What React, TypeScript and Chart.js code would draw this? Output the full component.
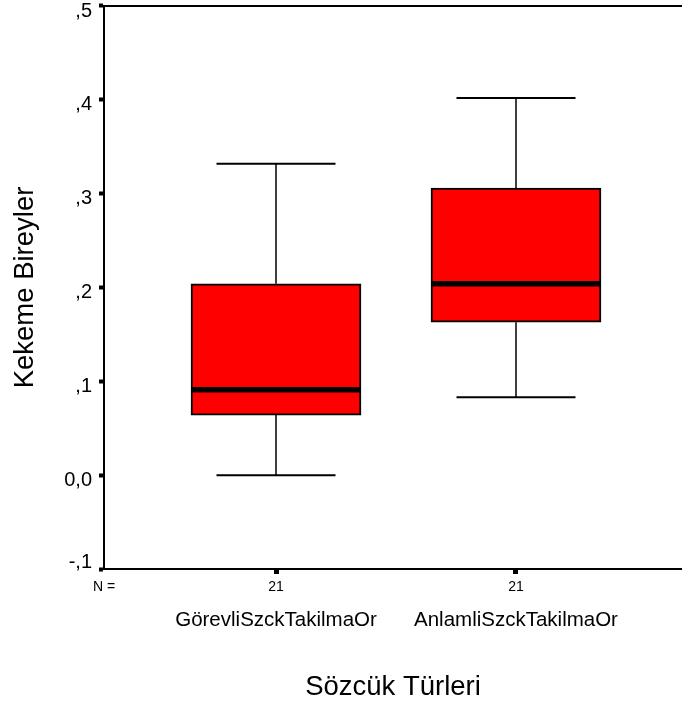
import React, { useEffect, useRef } from "react";
import { Chart, registerables } from "chart.js";

Chart.register(...registerables);

const categories = ["GörevliSzckTakilmaOr", "AnlamliSzckTakilmaOr"];
const nCounts = [21, 21];
const whiskerLow = [0.0, 0.083];
const q1 = [0.064, 0.163];
const medians = [0.091, 0.204];
const q3 = [0.204, 0.306];
const whiskerHigh = [0.332, 0.402];
const yTickLabels = ["-,1", "0,0", ",1", ",2", ",3", ",4", ",5"];
const nLabel = "N =";
const yTitle = "Kekeme Bireyler";
const xTitle = "Sözcük Türleri";

const X_MIN = 0.2833;
const X_MAX = 2.6917;
const FONT = "'Liberation Sans', Arial, sans-serif";

const boxPlugin = {
  id: "boxWhiskers",
  afterDatasetsDraw(chart: any) {
    const { ctx } = chart;
    const x = chart.scales.x;
    const y = chart.scales.y;
    const meta = chart.getDatasetMeta(0);
    meta.data.forEach((bar: any, i: number) => {
      const cx = x.getPixelForValue(i + 1);
      const half = bar.width / 2;
      const capHalf = half * 0.7;
      const yHi = y.getPixelForValue(whiskerHigh[i]);
      const yLo = y.getPixelForValue(whiskerLow[i]);
      const yQ3 = y.getPixelForValue(q3[i]);
      const yQ1 = y.getPixelForValue(q1[i]);
      const yMed = y.getPixelForValue(medians[i]);
      ctx.save();
      ctx.strokeStyle = "#000";
      ctx.lineWidth = 1.5;
      ctx.beginPath();
      ctx.moveTo(cx, yQ3);
      ctx.lineTo(cx, yHi);
      ctx.moveTo(cx, yQ1);
      ctx.lineTo(cx, yLo);
      ctx.stroke();
      ctx.lineWidth = 2;
      ctx.beginPath();
      ctx.moveTo(cx - capHalf, yHi);
      ctx.lineTo(cx + capHalf, yHi);
      ctx.moveTo(cx - capHalf, yLo);
      ctx.lineTo(cx + capHalf, yLo);
      ctx.stroke();
      ctx.lineWidth = 5.5;
      ctx.beginPath();
      ctx.moveTo(cx - half, yMed);
      ctx.lineTo(cx + half, yMed);
      ctx.stroke();
      ctx.restore();
    });
  },
};

const noPad = (s: any) => {
  s.paddingLeft = 0;
  s.paddingRight = 0;
  s.paddingTop = 0;
  s.paddingBottom = 0;
};

export default function App() {
  const ref = useRef<HTMLCanvasElement>(null);
  useEffect(() => {
    if (!ref.current) return;
    Chart.defaults.font.family = FONT;
    Chart.defaults.color = "#000";
    const chart = new Chart(ref.current, {
      type: "bar",
      data: {
        datasets: [
          {
            data: categories.map((_, i) => ({ x: i + 1, y: [q1[i], q3[i]] })) as any,
            backgroundColor: "#ff0000",
            borderColor: "#000",
            borderWidth: 2,
            borderSkipped: false,
            barThickness: 170,
          },
        ],
      },
      options: {
        responsive: false,
        animation: false,
        devicePixelRatio: 1,
        layout: { padding: 0 },
        plugins: { legend: { display: false }, tooltip: { enabled: false } },
        scales: {
          x: {
            type: "linear",
            position: "bottom",
            offset: false,
            min: X_MIN,
            max: X_MAX,
            afterBuildTicks: (s: any) => {
              s.ticks = [{ value: X_MIN }, ...categories.map((_, i) => ({ value: i + 1 }))];
            },
            afterFit: (s: any) => {
              s.height = 26;
              noPad(s);
            },
            ticks: {
              autoSkip: false,
              maxRotation: 0,
              padding: 5,
              font: { size: 14 },
              callback: (_v: any, i: number) => (i === 0 ? nLabel : String(nCounts[i - 1])),
            },
            grid: {
              offset: false,
              drawOnChartArea: false,
              drawTicks: true,
              tickLength: 5,
              tickWidth: 5,
              tickColor: (c: any) => (c.index === 0 ? "rgba(0,0,0,0)" : "#000"),
            },
            border: { display: true, color: "#000", width: 2 },
          },
          xCat: {
            type: "linear",
            position: "bottom",
            offset: false,
            min: X_MIN,
            max: X_MAX,
            afterBuildTicks: (s: any) => {
              s.ticks = categories.map((_, i) => ({ value: i + 1 }));
            },
            afterFit: (s: any) => {
              s.height = 113;
              noPad(s);
            },
            ticks: {
              autoSkip: false,
              maxRotation: 0,
              padding: 13,
              font: { size: 20.5 },
              callback: (_v: any, i: number) => categories[i],
            },
            grid: { display: false, drawTicks: false, offset: false },
            border: { display: false },
            title: {
              display: true,
              text: xTitle,
              font: { size: 27.5 },
              padding: { top: 4, bottom: 4 },
            },
          },
          xTop: {
            type: "linear",
            position: "top",
            offset: false,
            min: X_MIN,
            max: X_MAX,
            afterFit: (s: any) => {
              s.height = 6;
              noPad(s);
            },
            ticks: { display: false },
            grid: { drawOnChartArea: false, drawTicks: false, offset: false },
            border: { display: true, color: "#000", width: 2 },
          },
          y: {
            type: "linear",
            min: -0.1,
            max: 0.5,
            afterBuildTicks: (s: any) => {
              s.ticks = yTickLabels.map((_, i) => ({ value: -0.1 + i * 0.1 }));
            },
            afterFit: (s: any) => {
              s.width = 104;
              noPad(s);
            },
            ticks: {
              padding: 7,
              labelOffset: 5,
              font: { size: 20 },
              callback: (_v: any, i: number) => (i === 0 ? [yTickLabels[i], ""] : yTickLabels[i]),
            },
            grid: {
              drawOnChartArea: false,
              drawTicks: true,
              tickLength: 5,
              tickWidth: 4,
              tickColor: "#000",
            },
            border: { display: true, color: "#000", width: 2 },
            title: {
              display: true,
              text: yTitle,
              font: { size: 27.5 },
              padding: { top: 9, bottom: 0 },
            },
          },
        },
      },
      plugins: [boxPlugin],
    });
    return () => chart.destroy();
  }, []);
  return (
    <div style={{ position: "fixed", left: 0, top: 0, width: 682, height: 708, background: "#fff" }}>
      <canvas ref={ref} width={682} height={708} style={{ width: 682, height: 708 }} />
    </div>
  );
}
